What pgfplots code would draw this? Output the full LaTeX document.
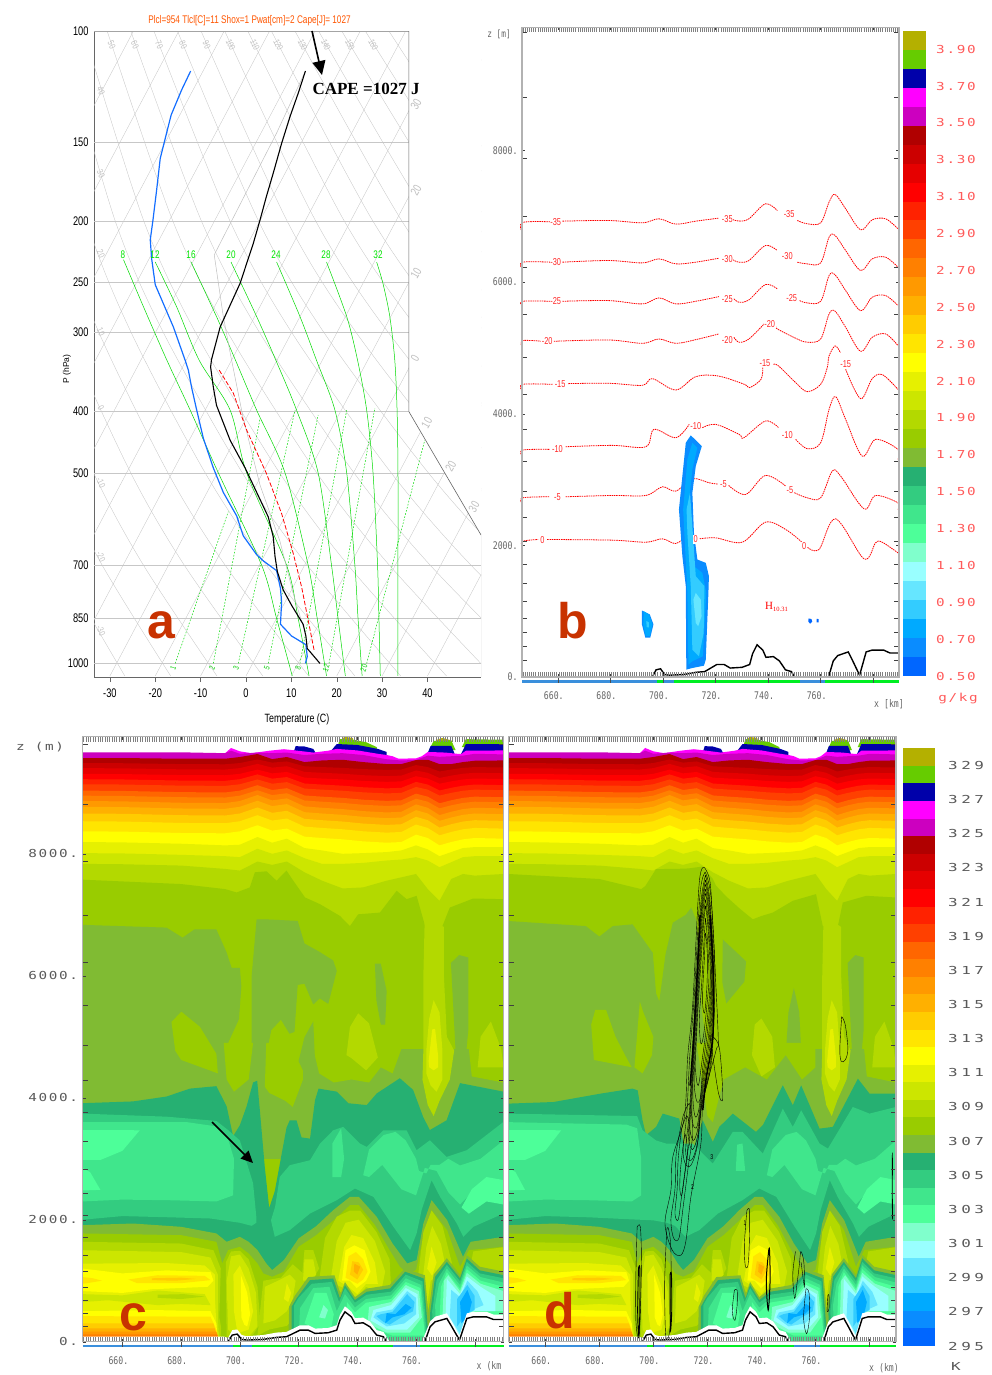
\documentclass[border=0pt]{standalone}
\usepackage{fontspec}
\usepackage{pgfplots}
\usepackage{pgfplotstable}
\pgfplotsset{compat=1.18}
\usetikzlibrary{arrows.meta}
\setmainfont{Liberation Sans}
\newfontfamily\narrowf[FakeStretch=0.74]{Liberation Sans}
\newfontfamily\capef{Liberation Serif}
\newfontfamily\gridw[FakeStretch=1.3,LetterSpace=15]{DejaVu Sans Mono}
\newfontfamily\gridww[FakeStretch=1.45,LetterSpace=32]{DejaVu Sans Mono}
\newfontfamily\gridn[FakeStretch=0.78]{DejaVu Sans Mono}
\definecolor{k1}{HTML}{B4B000}\definecolor{k2}{HTML}{66CC00}\definecolor{k3}{HTML}{0000AA}\definecolor{k4}{HTML}{FF00FF}
\definecolor{k5}{HTML}{CC00BF}\definecolor{k6}{HTML}{B00000}\definecolor{k7}{HTML}{CC0000}\definecolor{k8}{HTML}{E60000}
\definecolor{k9}{HTML}{FF0000}\definecolor{k10}{HTML}{FF2200}\definecolor{k11}{HTML}{FF4000}\definecolor{k12}{HTML}{FF6600}
\definecolor{k13}{HTML}{FF8000}\definecolor{k14}{HTML}{FF9900}\definecolor{k15}{HTML}{FFB000}\definecolor{k16}{HTML}{FFCC00}
\definecolor{k17}{HTML}{FFE500}\definecolor{k18}{HTML}{FFFF00}\definecolor{k19}{HTML}{E6F000}\definecolor{k20}{HTML}{CCE600}
\definecolor{k21}{HTML}{B3D900}\definecolor{k22}{HTML}{99CC00}\definecolor{k23}{HTML}{80BB33}\definecolor{k24}{HTML}{26B072}
\definecolor{k25}{HTML}{33CC80}\definecolor{k26}{HTML}{40E68C}\definecolor{k27}{HTML}{4DFF99}\definecolor{k28}{HTML}{80FFCC}
\definecolor{k29}{HTML}{99FFFF}\definecolor{k30}{HTML}{66E6FF}\definecolor{k31}{HTML}{33CCFF}\definecolor{k32}{HTML}{00AAFF}
\definecolor{k33}{HTML}{0A8CFF}\definecolor{k34}{HTML}{0066FF}
\definecolor{letterc}{HTML}{C83200}
\definecolor{stripb}{HTML}{3A8FDC}\definecolor{stripg}{HTML}{00EE22}
\definecolor{labred}{HTML}{FF5A5A}
\pgfplotstableread{
x dr cc e6 ff rt ro o6 o8 o9 ob oc oe yy yg ce b3
646.4 9570 9488 9405 9311 9223 9140 9036 8953 8865 8771 8661 8534 8369 8193 8011 7835
660 9570 9485 9401 9307 9219 9136 9031 8948 8860 8766 8656 8529 8364 8187 8006 7829
680 9559 9471 9385 9291 9201 9118 9011 8928 8837 8743 8633 8506 8341 8165 7983 7807
695 9559 9468 9382 9288 9197 9114 9006 8923 8832 8738 8628 8501 8336 8138 7961 7752
700 9587 9488 9405 9311 9223 9140 9036 8953 8865 8771 8661 8534 8369 8149 7945 7725
706 9636 9547 9474 9380 9302 9219 9125 9042 8964 8870 8760 8633 8468 8275 8083 7873
711 9553 9495 9413 9319 9232 9149 9046 8963 8876 8782 8672 8545 8380 8182 8000 7818
716 9587 9514 9436 9342 9258 9175 9076 8993 8909 8815 8705 8578 8413 8248 8055 7873
722 9504 9435 9343 9249 9153 9070 8957 8874 8777 8683 8573 8446 8281 8094 7928 7697
728 9531 9422 9328 9234 9135 9052 8937 8854 8755 8661 8551 8424 8259 8055 7835 7559
735 9542 9409 9313 9219 9117 9034 8917 8834 8733 8639 8529 8402 8237 8000 7835 7432
742 9504 9389 9289 9195 9091 9008 8887 8804 8700 8606 8496 8369 8204 8011 7851 7449
750 9471 9376 9274 9180 9073 8990 8868 8785 8678 8584 8474 8347 8182 8028 7890 7559
755 9471 9382 9282 9188 9082 8999 8878 8795 8689 8595 8485 8358 8193 8055 7906 7614
760 9537 9455 9366 9272 9179 9096 8986 8903 8810 8716 8606 8479 8314 8138 7945 7669
764 9542 9422 9328 9234 9135 9052 8937 8854 8755 8661 8551 8424 8259 8072 7890 7421
768 9471 9349 9243 9149 9038 8955 8828 8745 8634 8540 8430 8303 8138 7961 7780 7229
772 9471 9382 9282 9188 9082 8999 8878 8795 8689 8595 8485 8358 8193 8028 7862 7587
776 9504 9409 9313 9219 9117 9034 8917 8834 8733 8639 8529 8402 8237 8094 7945 7669
780 9526 9422 9328 9234 9135 9052 8937 8854 8755 8661 8551 8424 8259 8110 7961 7642
789.8 9531 9415 9320 9226 9126 9043 8927 8844 8744 8650 8540 8413 8248 8110 7961 7669
}\upT
\newcommand\B[2]{\addplot[fill=#1,draw=none] coordinates {#2} --cycle;}
\newcommand\U[2]{\addplot[fill=#1,draw=none] table[x=x,y=#2]{\upT} \closedcycle;}
\newcommand\Ln[2][]{\addplot[black,line width=.4pt,smooth,tension=.55,#1] coordinates {#2};}
\newcommand\upperbands{%
\B{k1}{(733.5,9700)(735,9900)(736,9915)(738.5,9900)(739,9700)}
\B{k1}{(764.5,9700)(767,9870)(769,9900)(772,9860)(773,9700)}
\B{k2}{(733,9700)(734,9880)(738.6,9870)(743,9830)(746.6,9750)(747,9650)}
\B{k2}{(764.4,9700)(766,9850)(772,9860)(773.5,9700)}
\B{k2}{(775.6,9750)(777,9880)(789.8,9870)(789.8,9700)}
\B{k3}{(718.2,9650)(719,9765)(722,9760)(725,9720)(726,9640)}
\B{k3}{(729.5,9600)(733,9800)(740,9785)(747,9720)(750,9670)(750,9600)}
\B{k3}{(763.5,9600)(765,9770)(772,9770)(773.5,9600)}
\B{k3}{(775,9600)(777,9800)(789.8,9800)(789.8,9600)}
\B{k4}{(694,9600)(695,9650)(697,9735)(700,9680)(704,9650)(710,9690)(715,9715)(718,9700)(725,9660)(730,9690)(733,9720)(740,9695)(747,9640)(750,9620)(752,9600)(754,9560)(760,9565)(762,9600)(764,9670)(770,9660)(774,9640)(775.5,9640)(777,9690)(789.8,9695)(789.8,9400)(694,9400)}
\B{k5}{(646.4,9664)(680,9664)(695,9650)(697,9690)(700,9640)(706,9660)(711,9650)(716,9660)(722,9620)(728,9640)(735,9650)(742,9620)(750,9550)(755,9530)(760,9540)(764,9610)(768,9590)(772,9600)(776,9610)(780,9640)(789.8,9630)(789.8,9000)(646.4,9000)}
\U{k6}{dr}\U{k7}{cc}\U{k8}{e6}\U{k9}{ff}\U{k10}{rt}\U{k11}{ro}\U{k12}{o6}\U{k13}{o8}\U{k14}{o9}\U{k15}{ob}\U{k16}{oc}\U{k17}{oe}\U{k18}{yy}\U{k19}{yg}\U{k20}{ce}\U{k21}{b3}}
\newcommand\columnright{%
\B{k21}{(763,7000)(762.5,6000)(762.5,4775)(762.2,4300)(764,3880)(766,3700)(768,3950)(771.5,4300)(773,4775)(770.5,5000)(769.5,6000)(769.5,6800)}
\B{k20}{(763.5,4775)(764.5,5300)(766,5600)(768,5400)(769,4775)(769,4300)(767,4100)(765,4200)(763.5,4400)}
\B{k19}{(764.3,4600)(765.5,5120)(766.5,5130)(767.5,4700)(767.5,4500)(766,4450)(764.5,4500)}
\B{k22}{(778,4800)(779,4350)(789.8,4250)(789.8,4800)}
\B{k21}{(781,4500)(782,5000)(785.5,5250)(789,4800)(789.8,4500)}}
\newcommand\lowshared{%
\B{k26}{(742,2730)(744,3150)(749,3390)(753,3440)(756.5,3300)(760,3000)(761,2800)(763.5,2760)(765,2900)(768,2900)(771,3000)(775,2890)(782,3000)(789.8,3300)(789.8,2650)(780,2500)(775,2250)(771,2450)(767,2800)(763,2850)(760,2400)(755,2500)(748.5,2900)(744,2700)}
\B{k27}{(775.5,2200)(779,2500)(784,2700)(789.8,2650)(789.8,2250)(784,2300)(778,2100)}
\B{k27}{(646.4,3470)(665.9,3467)(660,3130)(652.5,2980)(646.4,2980)}
\B{k27}{(646.4,2850)(649,2780)(652.5,2490)(646.4,2480)}
\B{k23}{(646.4,1911)(663.6,1938)(680,1884)(692,1775)(695.5,1638)(700,1720)(703,1638)(706,1502)(709,1283)(711,1174)(715,1338)(720,1693)(726,1895)(731.8,2157)(737.5,2375)(740.5,2375)(746.6,2048)(752,1611)(757,1283)(760.2,1338)(762.5,1938)(765.3,2321)(770.6,1993)(776,1392)(778.6,1638)(789.8,1720)(789.8,0)(646.4,0)}
\B{k22}{(646.4,1775)(680,1747)(692,1638)(694,1283)(696,1502)(700,1556)(703,1447)(706,1283)(708,1119)(711,1065)(715,1147)(720,1556)(726,1747)(732,1993)(737.5,2239)(740.5,2239)(746,1911)(751,1502)(754.5,1229)(757,1119)(760,1174)(762.5,1720)(765.3,2157)(770.6,1829)(775,1229)(778,1502)(789.8,1556)(789.8,0)(646.4,0)}
% left stack
\B{k21}{(646.4,1638)(680,1610)(691,1500)(693.5,1200)(693,400)(694.5,0)(646.4,0)}
\B{k20}{(646.4,1500)(680,1470)(690,1380)(692.5,1100)(692.5,400)(693,0)(646.4,0)}
\B{k19}{(646.4,1280)(675,1290)(688,1250)(691.5,1100)(691.5,700)(692,300)(692.5,0)(646.4,0)}
\B{k18}{(646.4,1200)(660,1120)(675,1170)(690,1140)(691,1000)(689,900)(670,860)(660,800)(646.4,830)}
\B{k17}{(646.4,1060)(650,1040)(653,1000)(648,960)(646.4,950)}
\B{k17}{(662,1020)(672,1090)(688,1080)(690,1010)(680,960)(665,960)}
\B{k16}{(670,1040)(680,1050)(685,1030)(678,1000)(670,1010)}
\B{k20}{(646.4,780)(660,760)(672,840)(688,780)(690,600)(680,620)(672,600)(655,680)(646.4,650)}
\B{k21}{(672,770)(681,780)(688,740)(680,700)(672,720)}
\B{k18}{(646.4,500)(670,520)(690,500)(692,300)(692.5,0)(646.4,0)}
\B{k17}{(646.4,420)(690,410)(692,200)(692.5,0)(646.4,0)}
\B{k16}{(646.4,300)(691,300)(692.8,0)(646.4,0)}
\B{k15}{(646.4,218)(691.5,218)(692.8,0)(646.4,0)}
\B{k14}{(646.4,164)(692,164)(693,0)(646.4,0)}
\B{k13}{(646.4,120)(692.3,120)(693.2,0)(646.4,0)}
\B{k22}{(693.5,60)(694,500)(694.8,1100)(695.6,500)(695.8,60)}
% dome 700
\B{k21}{(695.5,80)(695.2,1300)(697,1480)(700,1490)(703,1350)(706,900)(707,300)(704,80)}
\B{k20}{(696,200)(695.5,1000)(697,1400)(700,1430)(703,1200)(705.5,800)(706,250)(703,80)(698,100)}
\B{k19}{(698,500)(697.8,1100)(700,1250)(703,900)(704.5,500)(703,200)(700,150)(699,200)}
\B{k18}{(700.5,400)(700.3,1100)(702.5,800)(703.5,450)(702.5,250)(701.5,280)}
% dome 715
\B{k21}{(706,100)(708,1000)(714,1050)(718,1270)(722,1100)(721,500)(716,260)(710,200)}
\B{k20}{(708,300)(708.5,900)(713,1000)(717,1100)(719,1000)(718,700)(716,500)(712,350)}
\B{k19}{(715,700)(716,960)(717.5,800)(716.5,650)}
\B{k21}{(721,1000)(722,1500)(725,1500)(727,1200)(724,950)}
\B{k20}{(721.5,1000)(722,1350)(725,1350)(726,1100)(724,1000)}
% main dome
\B{k21}{(727,1000)(729,1700)(733,2050)(737.5,2150)(741,2150)(746.5,1800)(751,1350)(751.5,900)(746,760)(742,800)(739,650)(735,800)}
\B{k20}{(731,1050)(733,1650)(736,1950)(740.5,2000)(746,1650)(749.5,1150)(748,800)(743,900)(739.5,720)(737,850)(732,950)}
\B{k19}{(733.5,1000)(735.5,1550)(738,1750)(742,1700)(746,1300)(747,950)(743,950)(740,780)(737,900)}
\B{k18}{(734.8,1000)(736,1500)(739,1580)(742.5,1500)(744.5,1150)(743,1000)(739.8,880)(737.5,1000)}
\B{k17}{(736,1050)(737,1400)(739.5,1470)(742,1350)(743.5,1150)(742,1020)(740,950)(738,1000)}
\B{k16}{(737.5,1100)(738.3,1320)(740.5,1300)(742,1180)(740,1020)}
\B{k15}{(738.8,1150)(739,1280)(741,1230)(740,1100)}
% right dome
\B{k21}{(760.5,1000)(762.5,1800)(765.3,2150)(769,1900)(772.2,1300)(771,1100)(768,1300)(764,500)(762,300)}
\B{k20}{(762,900)(763.5,1550)(765.5,1900)(768.5,1600)(770,1250)(768,1100)(765,1000)(763.5,500)}
\B{k19}{(763.8,1200)(765.3,1560)(767,1300)(765.5,1080)}
\B{k21}{(778,1100)(779.5,1480)(789.8,1550)(789.8,1000)(782,1060)}
% cold pockets
\B{k23}{(716.5,0)(716.8,574)(718.8,760)(723.3,1060)(732.2,1090)(734.3,780)(735.8,980)(739.2,730)(743.2,870)(751,930)(756.2,1200)(763,1090)(764.3,420)(764.8,0)}
\B{k23}{(764.5,0)(764.2,470)(766,1100)(770.5,1370)(775,1090)(777.3,1420)(781.7,1230)(789.8,1150)(789.8,0)}
\B{k24}{(717.6,0)(717.6,574)(719.3,710)(723.9,1010)(731.8,1037)(734.1,710)(735.8,928)(739.2,683)(743.2,819)(751.2,874)(756.3,1147)(762.6,1037)(763.7,410)(764.5,0)}
\B{k24}{(765,0)(764.8,470)(766.5,1065)(770.5,1310)(775,1040)(777.3,1365)(781.7,1170)(789.8,1092)(789.8,0)}
\B{k25}{(718.5,0)(718.5,600)(720,720)(724.5,950)(731.3,980)(733.8,650)(735.8,880)(739.2,640)(743.2,770)(751.5,820)(756.5,1100)(762.2,990)(763.2,400)(763.8,0)}
\B{k25}{(766,0)(765.5,500)(767,1010)(770.5,1260)(775,990)(777.3,1310)(781.7,1120)(789.8,1040)(789.8,0)}
\B{k26}{(720,0)(720.5,550)(725,880)(730.5,900)(733,500)(735.8,780)(739.2,560)(743,700)(751.5,760)(756.5,1040)(761.8,930)(762.8,400)(763.3,0)}
\B{k26}{(767,0)(766.5,600)(767.8,950)(770.5,1200)(775,930)(777.3,1250)(782,1060)(789.8,970)(789.8,0)}
\B{k27}{(722,300)(725.5,800)(729.5,800)(732,450)(731,200)(726,200)}
\B{k27}{(736,250)(736.5,650)(739.2,480)(743,640)(751.5,700)(756.5,980)(761.5,880)(762.5,350)(763,100)(752,100)(745,230)}
\B{k27}{(768,300)(768.5,900)(770.5,1140)(775,870)(777.3,1190)(782,1000)(789.8,900)(789.8,420)(780,420)(775,100)}
\B{k28}{(727,400)(728.5,600)(730,520)(729,380)}
\B{k28}{(743.5,300)(744,570)(751.5,650)(756.5,930)(761,830)(762,400)(758,150)(750,150)}
\B{k28}{(769,350)(769.5,1000)(771,1090)(775,830)(777.3,1130)(782,950)(789.8,830)(789.8,500)(780,500)(775,100)}
\B{k29}{(744.5,350)(745.5,520)(751.5,600)(756.5,880)(760.5,780)(761,400)(757,200)(750,200)}
\B{k29}{(770,300)(770.5,1030)(775,780)(777.3,1070)(782,900)(787,750)(787,500)(778,500)(775,100)}
\B{k30}{(745.5,400)(746.5,480)(752,530)(757,830)(760,720)(760,450)(756,300)(750,250)}
\B{k30}{(771.5,400)(772,850)(775,730)(777.5,1000)(781,820)(783,600)(778,500)(775,130)}
\B{k31}{(746.5,420)(748,450)(752,490)(757,780)(759.5,650)(759,500)(755,400)(751,280)(749,320)}
\B{k31}{(774,250)(774,700)(777.5,930)(780,750)(780,520)(777,450)}
\B{k32}{(749.5,300)(750,470)(753,450)(756.5,620)(758.5,560)(756,450)(752,400)}
\B{k32}{(775.5,300)(775,650)(777.5,850)(779,650)(778,450)}
% ground
\B{white}{(646.4,0)(646.4,85)(694.5,85)(696,60)(697.4,190)(699.1,200)(700.6,110)(702.3,90)(708,110)(712.5,150)(715.9,160)(718.2,215)(720.5,270)(723.3,270)(725.6,215)(730.1,225)(733,270)(734.1,440)(735.8,580)(738,490)(739.2,385)(742,395)(744.3,330)(746.6,190)(748.9,160)(751,0)}
\B{white}{(762,0)(764.8,330)(766.5,410)(770.5,465)(772.2,330)(774.8,100)(777.3,465)(779.5,490)(784,490)(786.4,445)(789.8,445)(789.8,0)}}
\newcommand\terrain{\addplot[black,line width=1.4pt] coordinates {(696,0)(697.4,109)(699.1,125)(700.6,38)(702.3,27)(708,38)(712.5,71)(715.9,82)(718.2,136)(720.5,190)(723.3,190)(725.6,136)(730.1,147)(733,190)(734.1,354)(735.8,490)(738,408)(739.2,299)(742,310)(744.3,245)(746.6,109)(748.9,82)(750,0)};
\addplot[black,line width=1.4pt] coordinates {(763,0)(764.8,245)(766.5,326)(770.5,381)(772.2,245)(774.8,27)(777.3,381)(779.5,408)(784,408)(786.4,364)(789.8,364)};}
\newcommand\stripticks{%
\addplot[stripb,line width=2.6pt] coordinates {(646.4,-70)(697.7,-70)};
\addplot[stripg,line width=2.6pt] coordinates {(697.7,-70)(700.2,-70)};
\addplot[stripb,line width=2.6pt] coordinates {(700.2,-70)(704.3,-70)};
\addplot[stripg,line width=2.6pt] coordinates {(704.3,-70)(752,-70)};
\addplot[stripb,line width=2.6pt] coordinates {(752,-70)(761.5,-70)};
\addplot[stripg,line width=2.6pt] coordinates {(761.5,-70)(789.8,-70)};
\addplot[black!70,line width=.4pt] coordinates {(660,0)(660,-90)};
\addplot[black!70,line width=.4pt] coordinates {(680,0)(680,-90)};
\addplot[black!70,line width=.4pt] coordinates {(700,0)(700,-90)};
\addplot[black!70,line width=.4pt] coordinates {(720,0)(720,-90)};
\addplot[black!70,line width=.4pt] coordinates {(740,0)(740,-90)};
\addplot[black!70,line width=.4pt] coordinates {(760,0)(760,-90)};
\addplot[black!70,line width=.4pt] coordinates {(780,0)(780,-90)};}
\pgfplotsset{secax/.style={scale only axis,clip=false,axis on top,xmin=646.4,xmax=789.8,ymin=0,
 xtick={660,680,700,720,740,760,780},xticklabels={660.,680.,700.,720.,740.,760.,{}},
 minor xtick={646.8,647.6,...,789.4},ytick={0,2000,4000,6000,8000},
 minor ytick={250,470,680,900,1150,1420,1710,2070,2430,2830,3280,3765,4295,4860,5510,6225,7000,7875,8815,9800},
 tick align=inside,major tick length=3pt,minor tick length=5pt,tick style={black!75,line width=.35pt},
 minor x tick style={black!50,line width=.45pt},
 tick pos=both,x axis line style={black,line width=.6pt},y axis line style={black!30,line width=1.1pt},
 xticklabel style={font=\gridn\fontsize{10.5}{10.5}\selectfont,text=black!60,yshift=-11pt,xshift=-4pt}},
 cbar/.style={scale only axis,ymin=0,ymax=34,xmin=0,xmax=1,xtick=\empty,major tick length=0pt,axis line style={draw=none},yticklabel pos=right,
 ytick={0,1.94,3.88,5.83,7.77,9.71,11.66,13.6,15.54,17.48,19.43,21.37,23.31,25.25,27.2,29.14,31.08,33.02},clip=false}}
\newcommand\bands{%
\addplot[fill=k34,draw=none] coordinates {(0,0)(1,0)(1,1)(0,1)} --cycle;\addplot[fill=k33,draw=none] coordinates {(0,1)(1,1)(1,2)(0,2)} --cycle;
\addplot[fill=k32,draw=none] coordinates {(0,2)(1,2)(1,3)(0,3)} --cycle;\addplot[fill=k31,draw=none] coordinates {(0,3)(1,3)(1,4)(0,4)} --cycle;
\addplot[fill=k30,draw=none] coordinates {(0,4)(1,4)(1,5)(0,5)} --cycle;\addplot[fill=k29,draw=none] coordinates {(0,5)(1,5)(1,6)(0,6)} --cycle;
\addplot[fill=k28,draw=none] coordinates {(0,6)(1,6)(1,7)(0,7)} --cycle;\addplot[fill=k27,draw=none] coordinates {(0,7)(1,7)(1,8)(0,8)} --cycle;
\addplot[fill=k26,draw=none] coordinates {(0,8)(1,8)(1,9)(0,9)} --cycle;\addplot[fill=k25,draw=none] coordinates {(0,9)(1,9)(1,10)(0,10)} --cycle;
\addplot[fill=k24,draw=none] coordinates {(0,10)(1,10)(1,11)(0,11)} --cycle;\addplot[fill=k23,draw=none] coordinates {(0,11)(1,11)(1,12)(0,12)} --cycle;
\addplot[fill=k22,draw=none] coordinates {(0,12)(1,12)(1,13)(0,13)} --cycle;\addplot[fill=k21,draw=none] coordinates {(0,13)(1,13)(1,14)(0,14)} --cycle;
\addplot[fill=k20,draw=none] coordinates {(0,14)(1,14)(1,15)(0,15)} --cycle;\addplot[fill=k19,draw=none] coordinates {(0,15)(1,15)(1,16)(0,16)} --cycle;
\addplot[fill=k18,draw=none] coordinates {(0,16)(1,16)(1,17)(0,17)} --cycle;\addplot[fill=k17,draw=none] coordinates {(0,17)(1,17)(1,18)(0,18)} --cycle;
\addplot[fill=k16,draw=none] coordinates {(0,18)(1,18)(1,19)(0,19)} --cycle;\addplot[fill=k15,draw=none] coordinates {(0,19)(1,19)(1,20)(0,20)} --cycle;
\addplot[fill=k14,draw=none] coordinates {(0,20)(1,20)(1,21)(0,21)} --cycle;\addplot[fill=k13,draw=none] coordinates {(0,21)(1,21)(1,22)(0,22)} --cycle;
\addplot[fill=k12,draw=none] coordinates {(0,22)(1,22)(1,23)(0,23)} --cycle;\addplot[fill=k11,draw=none] coordinates {(0,23)(1,23)(1,24)(0,24)} --cycle;
\addplot[fill=k10,draw=none] coordinates {(0,24)(1,24)(1,25)(0,25)} --cycle;\addplot[fill=k9,draw=none] coordinates {(0,25)(1,25)(1,26)(0,26)} --cycle;
\addplot[fill=k8,draw=none] coordinates {(0,26)(1,26)(1,27)(0,27)} --cycle;\addplot[fill=k7,draw=none] coordinates {(0,27)(1,27)(1,28)(0,28)} --cycle;
\addplot[fill=k6,draw=none] coordinates {(0,28)(1,28)(1,29)(0,29)} --cycle;\addplot[fill=k5,draw=none] coordinates {(0,29)(1,29)(1,30)(0,30)} --cycle;
\addplot[fill=k4,draw=none] coordinates {(0,30)(1,30)(1,31)(0,31)} --cycle;\addplot[fill=k3,draw=none] coordinates {(0,31)(1,31)(1,32)(0,32)} --cycle;
\addplot[fill=k2,draw=none] coordinates {(0,32)(1,32)(1,33)(0,33)} --cycle;\addplot[fill=k1,draw=none] coordinates {(0,33)(1,33)(1,34)(0,34)} --cycle;}
\newcommand\G[1]{\addplot[black!22,line width=.35pt] coordinates {#1};}
\newcommand\A[1]{\addplot[black!22,line width=.35pt,smooth] coordinates {#1};}
\newcommand\Gs[1]{\addplot[green!85!black,line width=.5pt,smooth] coordinates {#1};}
\newcommand\Gd[1]{\addplot[green!85!black,line width=.5pt,dash pattern=on 1.6pt off 1.6pt] coordinates {#1};}
\newcommand\Rd[1]{\addplot[red,line width=.8pt,smooth,tension=.55,dash pattern=on 1.5pt off .8pt] coordinates {#1};}
\tikzset{rl/.style={font=\narrowf\fontsize{10}{10}\selectfont,text=red!85,fill=white,inner sep=.6pt}}
\begin{document}
\begin{tikzpicture}
\path[use as bounding box] (0pt,0pt) rectangle (991pt,-1375pt);
%% panel a
\begin{axis}[scale only axis,at={(94pt,-677pt)},anchor=south west,width=387pt,height=646pt,
 xmin=-33.5,xmax=51.8,ymode=log,y dir=reverse,ymin=100,ymax=1052,
 axis x line*=bottom,axis y line*=left,axis line style={-,black!60,line width=.6pt},
 xtick={-30,-20,-10,0,10,20,30,40},xticklabels={-30,-20,-10,0,10,20,30,40},
 ytick={100,150,200,250,300,400,500,700,850,1000},yticklabels={100,150,200,250,300,400,500,700,850,1000},
 yminorticks=false,tick style={black!60,line width=.4pt},xtick align=outside,major tick length=5pt,
 ytick style={draw=none},
 xticklabel style={font=\narrowf\fontsize{12.5}{12.5}\selectfont,yshift=-3pt},
 yticklabel style={font=\narrowf\fontsize{12.5}{12.5}\selectfont,xshift=-2pt}]
\G{(-33.5,100)(51.8,100)}\G{(-33.5,150)(51.8,150)}\G{(-33.5,200)(51.8,200)}\G{(-33.5,250)(51.8,250)}\G{(-33.5,300)(51.8,300)}
\G{(-33.5,400)(51.8,400)}\G{(-33.5,500)(51.8,500)}\G{(-33.5,700)(51.8,700)}\G{(-33.5,850)(51.8,850)}\G{(-33.5,1000)(51.8,1000)}
\G{(-100,1048)(-24.8,100)}\G{(-90,1048)(-14.8,100)}\G{(-80,1048)(-4.8,100)}\G{(-70,1048)(5.2,100)}\G{(-60,1048)(15.2,100)}\G{(-50,1048)(25.2,100)}
\G{(-40,1048)(35.2,100)}\G{(-30,1048)(45.2,100)}\G{(-20,1048)(55.2,100)}\G{(-10,1048)(65.2,100)}\G{(0,1048)(75.2,100)}\G{(10,1048)(85.2,100)}
\G{(20,1048)(95.2,100)}\G{(30,1048)(105.2,100)}\G{(40,1048)(115.2,100)}
\A{(-72,100)(-66.6,200)(-60.8,300)(-50,500)(-40.7,700)(-26.7,1048)}
\A{(-66.9,100)(-60.3,200)(-53.7,300)(-41.8,500)(-31.7,700)(-16.6,1048)}
\A{(-61.7,100)(-54,200)(-46.6,300)(-33.6,500)(-22.6,700)(-6.4,1048)}
\A{(-56.5,100)(-47.7,200)(-39.5,300)(-25.4,500)(-13.6,700)(3.7,1048)}
\A{(-51.3,100)(-41.4,200)(-32.4,300)(-17.2,500)(-4.6,700)(13.8,1048)}
\A{(-46.1,100)(-35.1,200)(-25.3,300)(-9,500)(4.5,700)(24,1048)}
\A{(-41,100)(-28.8,200)(-18.2,300)(-.8,500)(13.5,700)(34.1,1048)}
\A{(-35.8,100)(-22.5,200)(-11.1,300)(7.4,500)(22.5,700)(44.2,1048)}
\A{(-30.6,100)(-16.1,200)(-4,300)(15.6,500)(31.6,700)(54.4,1048)}
\A{(-25.4,100)(-9.8,200)(3,300)(23.8,500)(40.6,700)(64.5,1048)}
\A{(-20.3,100)(-3.5,200)(10.1,300)(32,500)(49.6,700)(74.6,1048)}
\A{(-15.1,100)(2.8,200)(17.2,300)(40.2,500)(58.6,700)(84.8,1048)}
\A{(-9.9,100)(9.1,200)(24.3,300)(48.4,500)(67.7,700)(94.9,1048)}
\A{(-4.7,100)(15.4,200)(31.4,300)(56.6,500)(76.7,700)(105,1048)}
\A{(.4,100)(21.7,200)(38.5,300)(64.8,500)(85.7,700)(115.2,1048)}
\A{(5.6,100)(28,200)(45.6,300)(73,500)(94.8,700)(125.3,1048)}
\A{(10.8,100)(34.4,200)(52.7,300)(81.2,500)(103.8,700)(135.5,1048)}
\A{(16,100)(40.7,200)(59.8,300)(89.4,500)(112.8,700)(145.6,1048)}
\A{(21.1,100)(47,200)(66.8,300)(97.6,500)(121.9,700)(155.7,1048)}
\A{(26.3,100)(53.3,200)(73.9,300)(105.8,500)(130.9,700)(165.9,1048)}
\A{(31.5,100)(59.6,200)(81,300)(114,500)(139.9,700)(176,1048)}
\addplot[fill=white,draw=none] coordinates {(35.9,100)(35.9,400)(51.8,627)(51.8,100)} --cycle;
\addplot[black!60,line width=.6pt] coordinates {(-33.5,100)(35.9,100)(35.9,400)(51.8,627)};
\addplot[black!30,line width=1pt] coordinates {(51.8,627)(51.8,1052)};
\Gs{(-27,230)(-22.6,273)(-17.5,331)(-12.3,398)(-6.1,500)(3.45,700)(6.75,850)(10.2,1048)}
\Gs{(-20,232)(-15.3,273)(-10.3,332)(-3.5,398)(.15,500)(8.95,700)(11.5,850)(13.9,1048)}
\Gs{(-12.1,232)(-6.5,283)(-2.3,332)(2.35,398)(8.6,500)(13.7,700)(15.7,850)(17.75,1048)}
\Gs{(-3.3,232)(2.35,283)(6.6,332)(11.15,398)(15.9,500)(18.85,700)(20.3,850)(21.9,1048)}
\Gs{(6.75,232)(11.9,283)(15.55,332)(19.6,398)(22.2,500)(24,700)(24.7,850)(25.6,1048)}
\Gs{(17.75,232)(22.2,283)(24.6,332)(26.6,398)(28,500)(29,700)(29.3,850)(29.6,1048)}
\Gs{(28.8,232)(30.2,251)(31.7,283)(32.8,332)(33.3,398)(33.5,500)(33.5,700)(33.5,1048)}
\Gd{(-15.6,1001)(-3.9,576)}\Gd{(-7.2,1001)(3.1,410)}\Gd{(-1.7,1001)(10.8,398)}\Gd{(4.9,1001)(15.9,405)}\Gd{(11.9,1001)(22.2,398)}\Gd{(18.3,1001)(28.4,395)}\Gd{(26.6,1001)(39.4,444)}
\addplot[black!25,line width=.5pt] coordinates {(13.1,115.7)(6.75,145)(-7,226)(-5,283)(-3.2,331)(-.6,410)(3.1,523)(7.5,642)(10.4,776)(12.6,875)};
\addplot[red,line width=.8pt,dash pattern=on 4.5pt off 2pt] coordinates {(-5.9,344)(-2.8,374)(.15,428)(4.5,501)(7.85,580)(10.4,670)(12.25,757)(13.7,855)(15,953)};
\addplot[line width=1.2pt,color={rgb,255:red,20;green,110;blue,255}] coordinates {(-12.2,115.7)(-14.2,124)(-16.5,135.8)(-18.9,159)(-19.7,178.6)(-20.5,199)(-21.1,214)(-20.8,229)(-20,252)(-16,294)(-13.4,332)(-12.7,344)(-12,366)(-11,394)(-9.4,441)(-7.2,491)(-5,537)(-2.05,585)(-.6,629)(2.3,673)(3.8,689)(6.75,714)(7.6,762)(7.85,801)(7.6,868)(10.05,906)(13.2,935)(13.5,976)(13.1,1001)};
\addplot[black,line width=1.1pt] coordinates {(13.1,115.7)(11.5,125.5)(9.7,136.6)(7.85,150.6)(6,167.9)(4.5,182.7)(3.1,199)(1.6,216.9)(-1.3,250.7)(-5.7,294)(-7.6,331)(-7.8,340)(-7.2,366)(-6.5,391)(-3.5,444)(-.2,491)(3.1,551)(4.9,587)(6,631)(6.4,678)(6.9,716)(8.2,766)(10.05,810)(12.6,868)(13.2,906)(13.5,948)(16.3,1001)};
\end{axis}
%% panel b
\begin{axis}[secax,at={(522pt,-677pt)},anchor=south west,width=377pt,height=649.7pt,ymax=9870,
 yticklabels={0.,2000.,4000.,6000.,8000.},yticklabel style={font=\gridn\fontsize{10.5}{10.5}\selectfont,text=black!60,xshift=-1pt}]
\Rd{(646.4,6758)(646.6,6905)(657.3,6915)}\Rd{(661.8,6925)(679.5,6935)(692.2,6900)(698.5,6961)(704.9,6880)(712.5,6925)(721.3,6971)}\Rd{(726.5,6950)(729,6925)(732.7,6961)(739,7189)(743.5,7087)}\Rd{(751.1,6935)(754.9,6885)(760,6900)(763.2,7214)(765.5,7331)(769.5,7113)(775.2,6793)(779.6,6946)(784.7,6961)(789.4,6809)}
\Rd{(646.4,6200)(646.6,6302)(657.3,6302)}\Rd{(661.8,6302)(679.5,6327)(692.2,6291)(698.5,6352)(704.9,6276)(712.5,6302)(721.3,6362)}\Rd{(726.5,6340)(729,6302)(732.7,6327)(739,6555)(743.5,6479)}\Rd{(751.1,6302)(754.9,6276)(760,6291)(763.2,6682)(765.5,6707)(769.5,6479)(775.2,6175)(779.6,6352)(784.7,6378)(789.4,6226)}
\Rd{(646.4,5642)(646.6,5708)(657.3,5708)}\Rd{(661.8,5708)(679.5,5718)(692.2,5668)(698.5,5759)(704.9,5668)(712.5,5708)(721.3,5779)}\Rd{(727,5745)(729,5693)(732.7,5729)(739,5962)(743.5,5896)}\Rd{(752,5718)(754.9,5683)(760,5708)(763.2,6099)(765.5,6109)(769.5,5871)(775.2,5566)(779.6,5769)(784.7,5795)(789.4,5642)}
\Rd{(646.4,5009)(646.6,5110)(654,5100)}\Rd{(658.5,5100)(679.5,5120)(692.2,5069)(698.5,5135)(704.9,5069)(712.5,5125)(721.3,5212)}\Rd{(727,5160)(729,5085)(732.7,5135)(738.5,5364)}\Rd{(743,5330)(743.5,5288)(751.1,5135)(754.9,5085)(760,5135)(763.2,5516)(765.5,5557)(769.5,5313)(775.2,4948)(779.6,5161)(784.7,5212)(789.4,5034)}
\Rd{(646.4,4345)(646.6,4446)(658,4446)}\Rd{(664,4457)(679.5,4462)(692.2,4431)(696,4533)(704.9,4360)(712.5,4563)(721,4573)(731,4446)(733,4396)(737.3,4522)(738,4700)}\Rd{(742,4750)(744,4725)(750.5,4472)(754.9,4335)(760,4446)(762.5,4700)(763.2,4877)(765.5,5030)(767.5,4928)}\Rd{(769.5,4675)(775.2,4228)(779.6,4533)(783.5,4593)(789.4,4370)}
\Rd{(646.4,3356)(646.6,3448)(657,3458)}\Rd{(663,3498)(680.8,3519)(693.5,3498)(696.6,3762)(704.9,3635)(710,3838)}\Rd{(715,3787)(720.1,3838)(729,3686)(730.8,3635)(739,3889)(744,3787)}\Rd{(750.5,3610)(754.9,3468)(760,3559)(763.2,4066)(765.7,4259)(769.5,3914)(775.8,3356)(780.9,3610)(789.4,3458)(789.4,3306)}
\Rd{(646.4,2636)(646.6,2722)(657,2738)}\Rd{(663,2738)(680.8,2758)(693.5,2758)(699.8,2890)(704.9,2824)(711.2,3012)(717.5,2951)(721,2930)}\Rd{(725,2910)(731.5,2773)(739,3062)(746.7,2900)}\Rd{(750,2800)(754.9,2722)(760,2722)(764.4,3128)(767.6,3052)(776.5,2555)(780.9,2758)(789.4,2646)(789.4,2545)}
\Rd{(646.4,1987)(646.6,2063)(652.5,2089)}\Rd{(656,2089)(680.8,2079)(693.5,2048)(699.8,2099)(704.9,2028)(709.5,2150)(711,2130)}\Rd{(714,2100)(720.1,2114)(730.2,2048)(739,2352)(746.7,2241)(752.8,2050)}\Rd{(755,1970)(759.4,1937)(765.7,2403)(776.5,1795)(780.9,2038)(783.4,2048)(789.4,1886)}
\B{k33}{(708.9,112)(708.7,1379)(707.4,1835)(706.1,2545)(707.4,3052)(708.7,3559)(710.6,3671)(714.8,3508)(712.5,3204)(711.2,2799)(711.8,2190)(713.1,1785)(716.3,1734)(717.5,1531)(717.3,1278)(716.3,264)(715.6,172)(711.2,137)}
\B{k32}{(709.7,188)(709.3,1278)(708.4,1988)(707.7,2545)(709.3,3306)(711.2,3559)(713.1,3483)(711.2,3154)(710,2697)(710.6,2139)(711.8,1684)(715,1582)(716.5,1278)(715.2,315)(711.2,239)}
\B{k31}{(711.2,416)(710.6,1379)(709.3,2190)(709,2545)(710.3,2799)(711.2,2292)(712.5,1531)(715.8,1379)(715.5,669)(713.7,315)}
\B{k30}{(712.5,821)(711.6,1176)(712.5,1278)(714.4,1176)(714.7,923)(713.4,771)}
\B{k33}{(692,1010)(695,950)(696.4,800)(695.2,600)(693.3,600)(692,800)}
\B{k32}{(692.7,1000)(694.7,950)(696,800)(695,620)(693.5,620)(692.5,800)}
\B{k31}{(693.7,850)(694.7,830)(694.6,750)(693.8,760)}
\B{k34}{(755.4,890)(756.5,880)(756.8,840)(756,810)(755.3,840)}
\B{k34}{(758.5,885)(759.2,880)(759.2,830)(758.5,830)}
\stripticks
\terrain
\node[rl] at (axis cs:659.2,6910){-35};\node[rl] at (axis cs:724.5,6960){-35};\node[rl] at (axis cs:748,7027){-35};
\node[rl] at (axis cs:659.2,6302){-30};\node[rl] at (axis cs:724.5,6342){-30};\node[rl] at (axis cs:747.3,6388){-30};
\node[rl] at (axis cs:659.2,5708){-25};\node[rl] at (axis cs:724.5,5744){-25};\node[rl] at (axis cs:749,5760){-25};
\node[rl] at (axis cs:656,5100){-20};\node[rl] at (axis cs:724.5,5125){-20};\node[rl] at (axis cs:740.6,5364){-20};
\node[rl] at (axis cs:660.9,4446){-15};\node[rl] at (axis cs:738.8,4776){-15};\node[rl] at (axis cs:769.5,4750){-15};
\node[rl] at (axis cs:659.9,3458){-10};\node[rl] at (axis cs:712.5,3813){-10};\node[rl] at (axis cs:747.3,3671){-10};
\node[rl] at (axis cs:659.9,2733){-5};\node[rl] at (axis cs:723,2925){-5};\node[rl] at (axis cs:748.3,2839){-5};
\node[rl] at (axis cs:654.2,2074){0};\node[rl] at (axis cs:712.5,2089){0};\node[rl] at (axis cs:753.7,1987){0};
\end{axis}
%% panel c
\begin{axis}[secax,at={(82.5pt,-1341.7pt)},anchor=south west,width=421pt,height=605pt,ymax=9920,
 yticklabels={0.,2000.,4000.,6000.,8000.},yticklabel style={font=\gridw\fontsize{11}{11}\selectfont,text=black!65,xshift=-1pt}]
\upperbands
\B{k22}{(646.4,7576)(680,7504)(695,7421)(698.9,7366)(703.4,7449)(705.1,7697)(709.1,7713)(712.5,7559)(715.9,7724)(718.2,7559)(722.2,7284)(727.3,7174)(734.1,6981)(737.5,6815)(740.3,7008)(747.7,7036)(753.4,7394)(756.8,7256)(760.2,7311)(763.1,6815)(769,6815)(771.5,7118)(779.5,7267)(789.8,7256)(789.8,0)(646.4,0)}
\B{k23}{(646.4,6835)(675,6790)(680.5,6625)(684.5,6760)(692,6760)(695.5,6380)(697.2,6130)(700,6130)(700.5,5830)(699.7,5290)(696,4900)(693,4300)(690,3500)(646.4,3500)}
\B{k23}{(704,5990)(705.7,6925)(709,6925)(719.7,6900)(722,6530)(727.2,6390)(731.8,6250)(733,6080)(730.1,5540)(727.2,5630)(725,5530)(722,5870)(719.7,5850)(718.6,5080)(716.9,5050)(714,5280)(710.7,5110)(709,4700)(704,4700)}
\B{k23}{(746,6200)(748,6200)(750,5750)(749.5,5200)(748,5200)(746.5,5600)}
\B{k23}{(771.9,6210)(774.7,6340)(777.8,6300)(777.8,5100)(776,4200)(774,4300)(773,5200)}
\B{k23}{(690,4800)(789.8,4800)(789.8,3000)(690,3000)}
\B{k22}{(676.7,5245)(680.1,5410)(686.4,5163)(692,4720)(692.5,4400)(680,4620)(678,4770)}
\B{k22}{(694.5,4900)(695.5,4300)(698,4100)(703,4300)(704.5,4900)}
\B{k22}{(709,4900)(708.5,4180)(710,4080)(715.5,3950)(718,3850)(721.5,4300)(721.5,4900)}
\B{k22}{(725,4800)(727,4400)(732,4250)(738,4300)(744,4250)(748,4500)(752,4400)(755,4800)}
\B{k23}{(720,4600)(722,4990)(725,5250)(725.5,4700)(726,4000)}
\B{k21}{(736.3,4700)(737.5,5160)(740.3,5385)(744,5220)(747,4660)(743,4450)(738,4650)}
\columnright
\B{k24}{(646.4,3911)(663.6,3940)(675,4020)(683,4150)(692,4190)(695.5,3860)(697.7,3370)(700,3550)(702.3,3860)(704.5,4250)(705.9,4280)(706.8,3800)(708.5,2860)(710,2190)(711.9,2470)(715.9,3510)(717,3630)(719.3,3630)(721,3350)(723.9,3330)(725.6,3960)(726.8,4150)(733,4100)(737,3910)(743.2,3880)(746.6,4070)(754.5,4320)(759,4130)(762.4,3690)(764.7,3470)(770.4,3630)(775,4240)(789.8,4100)(789.8,0)(646.4,0)}
\B{k25}{(646.4,3740)(675,3690)(692,3620)(696,3470)(700,3300)(704.5,2600)(705.6,2050)(705.6,1950)(704,1900)(700,1950)(690,2020)(676,2040)(660,2060)(646.4,2000)}
\B{k25}{(710.6,1990)(712,2211)(713.6,2703)(717,2894)(723.9,2976)(727.3,3249)(731.8,3467)(735.2,3522)(740.9,3249)(743.2,3194)(748.9,3467)(756.8,3467)(760.2,3140)(764.7,3303)(770.4,3030)(777.3,3140)(789.8,3604)(789.8,2102)(779.5,1884)(776.1,1720)(773.9,1938)(768.2,2375)(765.3,2648)(761.9,2157)(760.2,1775)(758,1502)(752.3,1884)(745.5,2375)(739.2,2512)(733,2321)(723.9,2102)(717,1829)(711.9,1720)}
\B{k26}{(646.4,3600)(682,3600)(692,3530)(696,3320)(698,3000)(697.7,2400)(692,2300)(676,2320)(660,2330)(646.4,2300)}
\B{k26}{(731.5,2700)(731.5,3250)(734.5,3500)(735.5,3000)(734.5,2700)}
\lowshared
\terrain
\stripticks
\end{axis}
%% panel d
\begin{axis}[secax,at={(508.5pt,-1341.7pt)},anchor=south west,width=387.5pt,height=605pt,ymax=9920,yticklabels={}]
\upperbands
\B{k22}{(646.4,7669)(680,7587)(695.5,7421)(697,7470)(701,7750)(708,7752)(713,7760)(718,7790)(722,7590)(723.2,7477)(727,7300)(732,7100)(736.8,6926)(740,6980)(744.2,7036)(751.6,7229)(760.2,7339)(762.7,6815)(768.3,6815)(770.1,7201)(778.8,7311)(789.8,7284)(789.8,0)(646.4,0)}
\B{k23}{(646.4,6898)(675,6815)(680,6643)(685,6815)(692.3,6843)(699.8,6375)(701,5713)(702.2,5576)(704.5,6350)(707.2,6870)(712,7000)(714,7118)(716,6900)(718,5400)(720,4800)(690,3500)(646.4,3500)}
\B{k23}{(725.7,6595)(734.3,6237)(733.7,5906)(727,5548)(725.5,5900)}
\B{k23}{(749,4700)(750,5400)(752,5800)(754,5400)(755,4500)}
\B{k23}{(771.9,6210)(774.7,6340)(777.8,6300)(777.8,5100)(776,4200)(774,4300)(773,5200)}
\B{k23}{(690,4800)(789.8,4800)(789.8,3000)(690,3000)}
\B{k22}{(677,5200)(678.5,5440)(682.5,5440)(686,5000)(689.9,4666)(692,4500)(678,4620)}
\B{k22}{(695,5576)(696.3,5400)(700,5000)(699.5,4700)(696,4400)(693,4500)}
\B{k22}{(716,4900)(720,3700)(722,3600)(726,4300)(734,4500)(742,4300)(749,4700)(755,4300)(760,4500)(760,4900)}
\B{k21}{(736.5,4700)(737.5,5200)(740,5300)(744,5000)(745,4500)(740,4350)}
\columnright
\B{k24}{(646.4,3904)(663,3930)(680.5,4068)(692.3,4150)(694.2,4122)(696,3631)(697.3,3385)(701,3522)(703.5,3740)(709.6,3658)(711.5,3140)(713.6,2867)(715.8,3303)(718.3,3631)(722,3276)(724.4,3522)(729.4,3740)(738,3440)(740.5,3550)(747.9,4204)(751.6,3877)(754.7,4204)(761.5,3494)(766.4,3522)(775.7,4313)(780,4068)(789.8,4068)(789.8,0)(646.4,0)}
\B{k25}{(646.4,3740)(694,3700)(696,3467)(701,3300)(704.7,3249)(714.6,3249)(722,2921)(729.4,3440)(733,3440)(740.5,3085)(747.9,3822)(751.6,3522)(754.7,3795)(761.5,3249)(764.6,3167)(773.8,3849)(780,3740)(789.8,3849)(789.8,2102)(779.5,1884)(776.1,1720)(773.9,1938)(768.2,2375)(765.3,2648)(761.9,2157)(760.2,1775)(758,1502)(752.3,1884)(745.5,2375)(739.2,2512)(733,2321)(723.9,2102)(717,1829)(711.9,1720)(708,1900)(705,1950)(700,1990)(690,2010)(676,2040)(660,2060)(646.4,2000)}
\B{k26}{(646.4,3600)(690,3560)(694,3500)(695.5,3000)(695.5,2400)(692,2300)(676,2320)(660,2330)(646.4,2300)}
\B{k26}{(730.5,2800)(731,3230)(733,3250)(734,2800)}
\lowshared
\terrain
\stripticks
\Ln{(719.1,7763)(717,7532)(714.6,5548)(712.7,4666)(711.5,3686)(707.2,3030)(706.5,2484)(704.3,1938)(707,1500)(710.2,1420)(712.1,1665)(713.9,2375)(717.6,3249)(718.5,3960)(723.2,4777)(724,5000)(722,6815)(721,7532)(719.1,7763)}
\Ln{(722,5000)(724.5,4800)(725.7,4000)(724,4100)(721,5000)}
\Ln{(719.2,7700)(717.3,7350)(715.2,5700)(713.5,4700)(712.4,3750)(711,3150)(712,2900)(714,2900)(716.2,3200)(717.8,3850)(721.5,4600)(722.8,6000)(721.3,7300)(719.2,7700)}
\Ln{(719.3,7650)(717.6,7200)(716,6000)(714.5,4800)(713.4,3800)(712,3200)(712.5,3000)(714.5,3000)(716.5,3300)(718,3900)(721.5,4700)(722.4,6000)(721,7200)(719.3,7650)}
\Ln{(719.3,7570)(717.8,7150)(716.2,6000)(714.8,4850)(713.7,3850)(713,3350)(714.5,3150)(716.5,3400)(718.1,4000)(721.2,4800)(722.2,6000)(720.9,7150)(719.3,7570)}
\Ln{(719.3,7500)(717.9,7100)(716.4,6000)(715,4900)(714,3900)(713.5,3500)(714.8,3300)(716.5,3500)(718.2,4100)(721,4900)(722,6000)(720.8,7100)(719.3,7500)}
\Ln{(719.3,7420)(718,7050)(716.6,6000)(715.2,4950)(714.3,4000)(714.5,3600)(715.8,3500)(716.7,3650)(718.4,4250)(720.8,5000)(721.8,6000)(720.6,7050)(719.3,7420)}
\Ln{(719.3,7350)(718.2,7000)(716.8,6000)(715.5,5000)(714.6,4100)(715.4,3700)(716.8,3800)(718.5,4400)(720.6,5100)(721.6,6000)(720.5,7000)(719.3,7350)}
\Ln{(719.3,7250)(718.4,6900)(717,6000)(715.9,5100)(715.1,4300)(716,3950)(717.4,4000)(718.3,4500)(720.3,5200)(721.4,6000)(720.3,6900)(719.3,7250)}
\Ln{(719.3,7150)(718.5,6800)(717.3,6000)(716.2,5200)(715.6,4500)(716.6,4200)(718,4600)(720,5300)(721.1,6000)(720.2,6800)(719.3,7150)}
\Ln{(719.3,6950)(718.8,6600)(717.8,5800)(717,5300)(717.5,4900)(718.5,5000)(719.8,5500)(720.6,6000)(720,6600)(719.3,6950)}
\Ln{(719.2,6700)(718.9,6300)(718.3,5800)(718.3,5500)(719,5400)(719.8,5800)(720,6300)(719.5,6650)(719.2,6700)}
\addplot[black,line width=1.5pt,smooth] coordinates {(717.3,7000)(716.2,6000)(714.8,4900)(713.6,4200)};
\addplot[black,line width=1.5pt,smooth] coordinates {(721,7000)(722.2,6000)(722,5000)(719.5,4300)(718.3,3800)};
\Ln{(711,3700)(708.5,3100)(708,2500)(706.5,2000)(707.5,1700)(709.5,1700)(711,2200)(713,2900)(714.5,3400)(713.5,3900)(711,3700)}
\Ln{(710.5,3500)(709.2,3000)(708.8,2500)(708,2100)(709.2,2000)(710.5,2400)(712,2900)(713.5,3400)(712.5,3700)(710.5,3500)}
\Ln{(711,3200)(710,2800)(709.8,2500)(710.5,2400)(711.5,2700)(712.6,3100)(711.8,3400)(711,3200)}
\Ln{(694,1880)(693.5,1000)(693.6,300)(694.6,60)(695.2,500)(695.6,1300)(695.2,1880)(694,1880)}
\Ln[line width=.9pt]{(694.5,1200)(694.2,500)(694.6,100)(695,500)(695,1200)(694.5,1200)}
\Ln{(705,1850)(704.2,1000)(704.5,150)(705.5,60)(706.4,400)(706.5,1500)(705.6,1850)(705,1850)}
\Ln[line width=.9pt]{(706.2,1100)(706.3,200)(706.8,500)(706.7,1100)(706.2,1100)}
\Ln{(734.6,2150)(733.7,1600)(734,1250)(735,1250)(735.5,1600)(735.6,2150)(734.6,2150)}
\Ln[line width=1pt]{(742.7,1500)(741.8,1000)(742.5,520)(743.2,1000)(743,1500)(742.7,1500)}
\Ln{(752.6,1480)(751.6,1100)(752.3,710)(753.3,1000)(754,1250)(754.6,1480)(755.7,1300)(755.9,900)(754.7,1300)}
\Ln{(730,846)(729.2,500)(730.2,350)(731,600)(731,846)(730,846)}
\Ln{(756.5,870)(755.6,400)(756.7,130)(757.8,400)(757.6,800)(756.5,870)}
\Ln{(764.6,760)(764.3,500)(765,540)(765,760)(764.6,760)}
\Ln{(788.4,3100)(788.3,2500)(788.5,2000)(788.6,2500)(788.5,3100)}
\Ln{(769.7,5330)(769,4800)(769.5,4600)(771,4620)(772,4800)(771,5200)(769.7,5330)}
\end{axis}
%% colour bars
\begin{axis}[cbar,at={(903pt,-676pt)},anchor=south west,width=22.7pt,height=645.3pt,
 yticklabels={0.50,0.70,0.90,1.10,1.30,1.50,1.70,1.90,2.10,2.30,2.50,2.70,2.90,3.10,3.30,3.50,3.70,3.90},
 yticklabel style={font=\gridw\fontsize{11}{11}\selectfont,text=labred,anchor=west,xshift=7pt}]
\bands
\end{axis}
\begin{axis}[cbar,at={(903pt,-1346pt)},anchor=south west,width=31.7pt,height=597.7pt,
 yticklabels={295,297,299,301,303,305,307,309,311,313,315,317,319,321,323,325,327,329},
 yticklabel style={font=\gridww\fontsize{11}{11}\selectfont,text=black!65,anchor=west,xshift=10pt}]
\bands
\end{axis}
%% texts
\begin{scope}[x=1pt,y=-1pt]
\node[font=\narrowf\fontsize{11.1}{11.1}\selectfont,text={rgb,255:red,255;green,85;blue,0}] at (249.5,21) {Plcl=954 Tlcl[C]=11 Shox=1 Pwat[cm]=2 Cape[J]= 1027};
\draw[-{Triangle[length=14pt,width=13pt]},line width=1.6pt,black] (312,31)--(322,75);
\node[font=\capef\bfseries\fontsize{17}{17}\selectfont,anchor=west] at (309,88.5) {CAPE =1027 J};
\node[font=\narrowf\fontsize{12}{12}\selectfont] at (297,719) {Temperature (C)};
\node[font=\fontsize{8.5}{8.5}\selectfont,rotate=90] at (67,369) {P (hPa)};
\foreach \x/\t in {123/8,155/12,191/16,231/20,276/24,326/28,378/32}{\node[font=\narrowf\fontsize{11}{11}\selectfont,text=green!90!black] at (\x,255) {\t};}
\foreach \x/\t in {173/1,212/2,236/3,267/5,298/8,326/12,364/20}{\node[font=\narrowf\fontsize{8}{8}\selectfont,text=green!80!black,rotate=70] at (\x,668) {\t};}
\foreach \x/\t in {111.7/50,135/60,159.3/70,183.3/80,206.7/90,230.7/100,255/110,278.3/120,302.7/130,326/140,350/150,373.3/160}{\node[font=\narrowf\fontsize{9}{9}\selectfont,text=black!25,rotate=-65] at (\x,45) {\t};}
\foreach \x/\y/\t in {101/90.7/40,101/174/30,101/254/20,101/331.7/10,101/407.7/0,101/483/-10,101/556.7/-20,101/630.7/-30}{\node[font=\narrowf\fontsize{9}{9}\selectfont,text=black!25,rotate=-65] at (\x,\y) {\t};}
\foreach \x/\y/\t in {416/104/30,416/190/20,416/273/10,415/358/0,426.7/422.7/10,450.7/466/20,474/506.7/30}{\node[font=\narrowf\fontsize{12}{12}\selectfont,text=black!25,rotate=60] at (\x,\y) {\t};}
\node[font=\gridn\fontsize{10}{10}\selectfont,text=black!60] at (499,34) {z [m]};
\node[font=\gridn\fontsize{10.5}{10.5}\selectfont,text=black!60] at (889,704) {x [km]};
\node[font=\fontsize{11}{11}\selectfont\capef,text=red,anchor=west,inner sep=0pt] at (765,607) {H\raisebox{-2pt}{\fontsize{6.5}{6.5}\selectfont 10.31}};
\node[font=\gridw\fontsize{11}{11}\selectfont,text=labred] at (958,698) {g/kg};
\node[font=\gridw\fontsize{11}{11}\selectfont,text=black!65] at (40,747) {z (m)};
\node[font=\gridn\fontsize{10.5}{10.5}\selectfont,text=black!60] at (489,1366) {x (km};
\node[font=\gridn\fontsize{10.5}{10.5}\selectfont,text=black!60] at (884,1368) {x (km)};
\node[font=\gridww\fontsize{11}{11}\selectfont,text=black!65] at (956,1366) {K};
\draw[-{Triangle[length=12pt,width=11pt]},line width=1.6pt,black] (212,1122)--(253,1163);
\foreach \x/\y/\t in {147/638/a,557/638/b,119/1330/c,544/1328/d}{\node[font=\bfseries\fontsize{50}{50}\selectfont,text=letterc,anchor=base west,inner sep=0pt] at (\x,\y) {\t};}
\node[font=\narrowf\fontsize{7}{7}\selectfont] at (711.7,1157) {3};
\node[font=\narrowf\fontsize{7}{7}\selectfont] at (692.5,1187) {2};
\node[font=\narrowf\fontsize{7}{7}\selectfont] at (745,1223) {1};
\end{scope}
\end{tikzpicture}
\end{document}
